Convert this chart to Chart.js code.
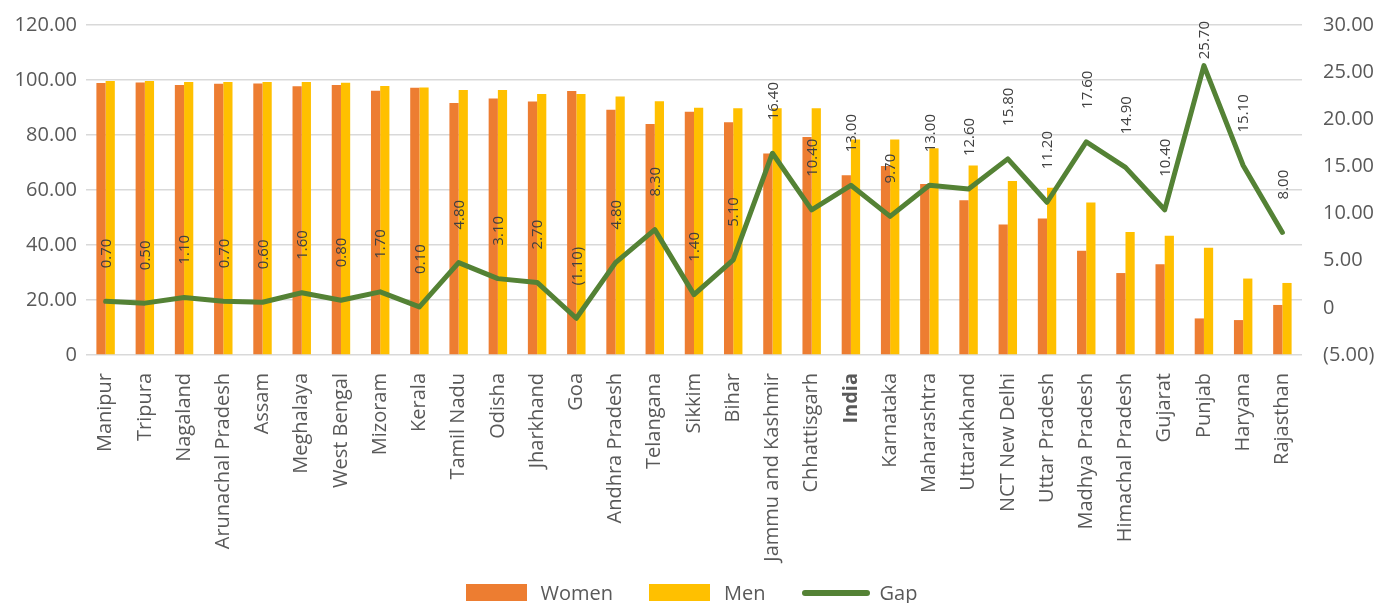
<!DOCTYPE html>
<html lang="en">
<head>
    <meta charset="UTF-8">
    <title>Literacy gap by state</title>
    <script src="https://cdn.jsdelivr.net/npm/chart.js"></script>
    <style>
        html, body { margin: 0; padding: 0; background: #fff; }
        #wrap { position: relative; width: 1383px; height: 603px; }
        #legend {
            position: absolute; left: 0; top: 584px; width: 1383px; height: 17px;
            display: flex; justify-content: center; align-items: center;
            font-family: 'Open Sans', sans-serif; font-size: 20px; color: #595959;
        }
        #legend .item { display: flex; align-items: center; margin: 0 18px; }
        #legend .box { width: 61px; height: 17px; margin-right: 14px; }
        #legend .line { width: 68px; height: 6px; border-radius: 3px; margin-right: 10px; }
    </style>
</head>
<body>
<div id="wrap">
    <canvas id="myChart" width="1383" height="603"></canvas>
    <div id="legend"></div>
</div>

<script>
    var states = ["Manipur", "Tripura", "Nagaland", "Arunachal Pradesh", "Assam", "Meghalaya", "West Bengal",
        "Mizoram", "Kerala", "Tamil Nadu", "Odisha", "Jharkhand", "Goa", "Andhra Pradesh", "Telangana", "Sikkim",
        "Bihar", "Jammu and Kashmir", "Chhattisgarh", "India", "Karnataka", "Maharashtra", "Uttarakhand",
        "NCT New Delhi", "Uttar Pradesh", "Madhya Pradesh", "Himachal Pradesh", "Gujarat", "Punjab", "Haryana",
        "Rajasthan"];

    var women = [98.9, 99.1, 98.2, 98.6, 98.7, 97.7, 98.2, 96.1, 97.2, 91.6, 93.3, 92.2, 96.0, 89.2, 84.0, 88.5,
        84.6, 73.3, 79.3, 65.4, 68.7, 62.2, 56.3, 47.5, 49.6, 37.9, 29.8, 33.0, 13.3, 12.7, 18.2];

    var men = [99.6, 99.6, 99.3, 99.3, 99.3, 99.3, 99.0, 97.8, 97.3, 96.4, 96.4, 94.9, 94.9, 94.0, 92.3, 89.9,
        89.7, 89.7, 89.7, 78.4, 78.4, 75.2, 68.9, 63.3, 60.8, 55.5, 44.7, 43.4, 39.0, 27.8, 26.2];

    var gap = [0.7, 0.5, 1.1, 0.7, 0.6, 1.6, 0.8, 1.7, 0.1, 4.8, 3.1, 2.7, -1.1, 4.8, 8.3, 1.4, 5.1, 16.4, 10.4,
        13.0, 9.7, 13.0, 12.6, 15.8, 11.2, 17.6, 14.9, 10.4, 25.7, 15.1, 8.0];

    var leftTicks = [0, 20, 40, 60, 80, 100, 120];
    var rightTicks = [-5, 0, 5, 10, 15, 20, 25, 30];

    var FONT = "'Open Sans', sans-serif";
    var TEXT = "#595959";
    var GRID = "#D9D9D9";

    // accounting style: 0 -> "0", negatives in brackets
    function fmt(v) {
        if (v === 0) return "0";
        if (v < 0) return "(" + Math.abs(v).toFixed(2) + ")";
        return v.toFixed(2);
    }

    // vertical value labels above the gap line
    var gapLabels = {
        id: 'gapLabels',
        afterDatasetsDraw: function (chart) {
            var meta = chart.getDatasetMeta(2);
            var ctx = chart.ctx;
            ctx.save();
            ctx.font = "15px " + FONT;
            ctx.fillStyle = "#404040";
            ctx.textAlign = "left";
            ctx.textBaseline = "middle";
            meta.data.forEach(function (pt, i) {
                var txt = fmt(gap[i]);
                var w = ctx.measureText(txt).width;
                var start = pt.y - 33;
                if (start - w < 21) start = 21 + w;
                ctx.save();
                ctx.translate(pt.x + 1, start);
                ctx.rotate(-Math.PI / 2);
                ctx.fillText(txt, 0, 0);
                ctx.restore();
            });
            ctx.restore();
        }
    };

    var ctx = document.getElementById('myChart');
    var myChart = new Chart(ctx, {
        type: 'bar',
        data: {
            labels: states,
            datasets: [
                {
                    label: "Women",
                    data: women,
                    backgroundColor: "#ED7D31",
                    yAxisID: 'y',
                    order: 1,
                    barPercentage: 1.0,
                    categoryPercentage: 0.47
                },
                {
                    label: "Men",
                    data: men,
                    backgroundColor: "#FFC000",
                    yAxisID: 'y',
                    order: 1,
                    barPercentage: 1.0,
                    categoryPercentage: 0.47
                },
                {
                    type: 'line',
                    label: "Gap",
                    data: gap,
                    borderColor: "#548235",
                    backgroundColor: "#548235",
                    borderWidth: 5,
                    borderJoinStyle: 'round',
                    borderCapStyle: 'round',
                    pointRadius: 0,
                    tension: 0,
                    fill: false,
                    yAxisID: 'y1',
                    order: 0
                }
            ]
        },
        options: {
            responsive: false,
            maintainAspectRatio: false,
            animation: false,
            layout: { padding: { top: 25, left: 0, right: 0, bottom: 0 } },
            plugins: {
                tooltip: { enabled: false },
                legend: { display: false }
            },
            scales: {
                x: {
                    grid: { display: false, drawTicks: false },
                    border: { display: false },
                    ticks: {
                        color: TEXT,
                        minRotation: 90,
                        maxRotation: 90,
                        autoSkip: false,
                        padding: 18,
                        font: function (c) {
                            return { family: FONT, size: 20, weight: states[c.index] === "India" ? 'bold' : 'normal' };
                        }
                    },
                    afterFit: function (scale) { scale.height = 248; }
                },
                y: {
                    position: 'left',
                    min: 0,
                    max: 120,
                    grid: { color: GRID, lineWidth: 1.5, drawTicks: false },
                    border: { display: false },
                    afterBuildTicks: function (scale) {
                        scale.ticks = leftTicks.map(function (v) { return { value: v }; });
                    },
                    ticks: {
                        color: TEXT,
                        padding: 9,
                        font: { family: FONT, size: 20 },
                        callback: function (v) { return fmt(v); }
                    },
                    afterFit: function (scale) {
                        scale.width = 86;
                        scale.paddingTop = 0;
                        scale.paddingBottom = 0;
                    }
                },
                y1: {
                    position: 'right',
                    min: -5,
                    max: 30,
                    grid: { display: false, drawTicks: false },
                    border: { display: false },
                    afterBuildTicks: function (scale) {
                        scale.ticks = rightTicks.map(function (v) { return { value: v }; });
                    },
                    ticks: {
                        color: TEXT,
                        padding: 21,
                        font: { family: FONT, size: 20 },
                        callback: function (v) { return fmt(v); }
                    },
                    afterFit: function (scale) {
                        scale.width = 81;
                        scale.paddingTop = 0;
                        scale.paddingBottom = 0;
                    }
                }
            }
        },
        plugins: [gapLabels]
    });

    // legend built from the chart's own datasets
    var legendEl = document.getElementById('legend');
    myChart.data.datasets.forEach(function (ds) {
        var item = document.createElement('div');
        item.className = 'item';
        var swatch = document.createElement('div');
        swatch.className = ds.type === 'line' ? 'line' : 'box';
        swatch.style.background = ds.type === 'line' ? ds.borderColor : ds.backgroundColor;
        var label = document.createElement('span');
        label.textContent = ds.label;
        item.appendChild(swatch);
        item.appendChild(label);
        legendEl.appendChild(item);
    });
</script>
</body>
</html>
